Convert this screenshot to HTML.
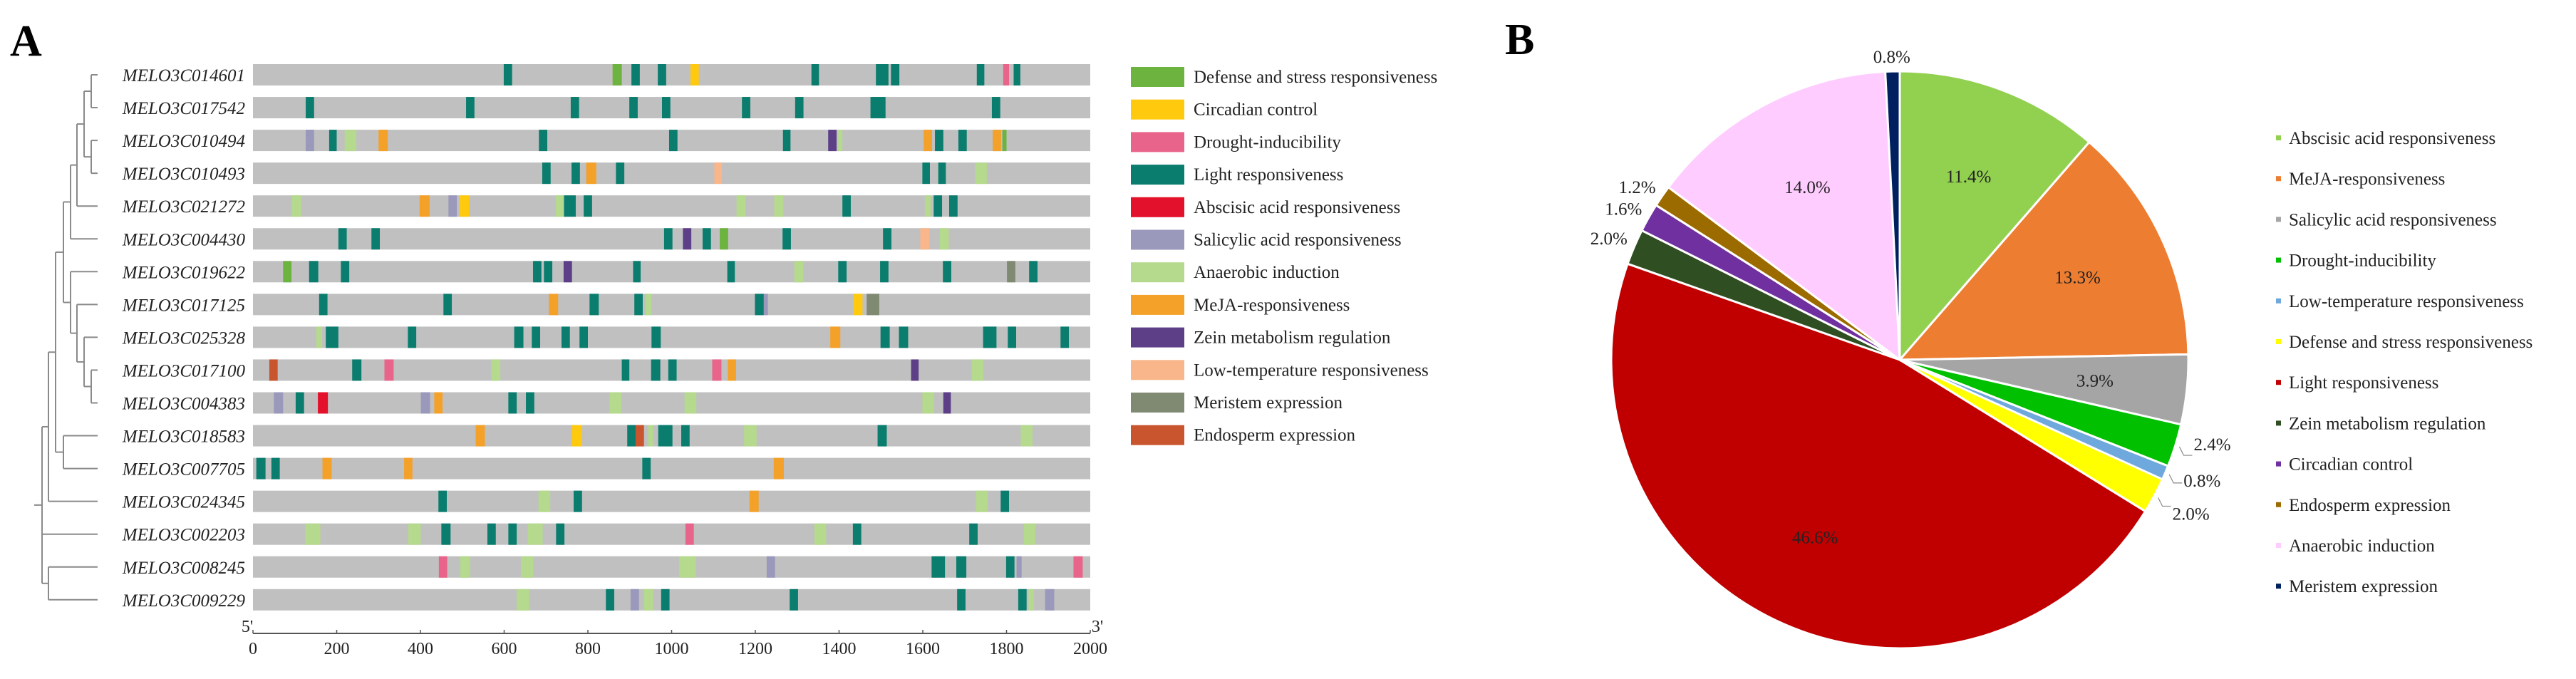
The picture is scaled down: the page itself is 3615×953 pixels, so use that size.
<!DOCTYPE html>
<html><head><meta charset="utf-8"><style>
html,body{margin:0;padding:0;background:#fff;}
svg{display:block;font-family:"Liberation Serif",serif;}
</style></head><body>
<svg id="fig" width="3615" height="953" viewBox="0 0 3615 953" xmlns="http://www.w3.org/2000/svg">
<text x="14" y="78" font-size="62" font-weight="bold">A</text>
<text x="2112" y="76" font-size="62" font-weight="bold">B</text>
<g id="panelA"></g>
<g id="legendA"></g>
<g id="pie"></g>
<g id="legendB"></g>
</svg>
<script>
const genes=["MELO3C014601","MELO3C017542","MELO3C010494","MELO3C010493","MELO3C021272","MELO3C004430","MELO3C019622","MELO3C017125","MELO3C025328","MELO3C017100","MELO3C004383","MELO3C018583","MELO3C007705","MELO3C024345","MELO3C002203","MELO3C008245","MELO3C009229"];
const elemTypes=["Defense and stress responsiveness","Circadian control","Drought-inducibility","Light responsiveness","Abscisic acid responsiveness","Salicylic acid responsiveness","Anaerobic induction","MeJA-responsiveness","Zein metabolism regulation","Low-temperature responsiveness","Meristem expression","Endosperm expression"];
const elemColors=["#6db33f","#ffc90e","#e8648a","#0a7d6e","#e3112b","#9a98bb","#b5d98d","#f4a12a","#5c3f87","#f8b68a","#808a72","#c9552f"];
const elements=[
 [[609,"L",20],[870,"D",22],[914,"L",20],[977,"L",20],[1055,"C",20],[1343,"L",18],[1503,"L",30],[1534,"L",20],[1738,"L",18],[1799,"R",14],[1825,"L",16]],
 [[136,"L",20],[519,"L",20],[769,"L",20],[909,"L",20],[987,"L",20],[1178,"L",20],[1305,"L",20],[1493,"L",36],[1775,"L",20]],
 [[136,"S",20],[191,"L",18],[233,"N",28],[311,"M",22],[693,"L",20],[1004,"L",20],[1275,"L",18],[1384,"Z",20],[1403,"N",10],[1612,"M",20],[1639,"L",20],[1695,"L",20],[1777,"M",20],[1795,"D",10]],
 [[701,"L",20],[771,"L",20],[808,"M",24],[877,"L",20],[1111,"T",18],[1608,"L",18],[1646,"L",18],[1739,"N",28]],
 [[104,"N",22],[410,"M",24],[477,"S",20],[505,"C",22],[732,"N",18],[757,"L",28],[800,"L",20],[1166,"N",22],[1256,"N",22],[1418,"L",20],[1612,"N",14],[1636,"L",20],[1673,"L",20]],
 [[214,"L",20],[293,"L",20],[992,"L",20],[1037,"Z",20],[1084,"L",20],[1125,"D",20],[1275,"L",20],[1515,"L",20],[1605,"T",22],[1651,"N",22]],
 [[82,"D",20],[145,"L",22],[220,"L",20],[679,"L",20],[705,"L",20],[752,"Z",20],[917,"L",18],[1142,"L",18],[1304,"N",22],[1408,"L",20],[1508,"L",20],[1658,"L",20],[1811,"E",20],[1864,"L",20]],
 [[168,"L",20],[465,"L",20],[718,"M",22],[815,"L",22],[921,"L",20],[945,"N",14],[1210,"L",22],[1225,"S",10],[1445,"C",22],[1481,"E",30]],
 [[158,"N",14],[189,"L",30],[380,"L",20],[635,"L",22],[676,"L",20],[747,"L",20],[790,"L",20],[963,"L",22],[1391,"M",24],[1510,"L",22],[1554,"L",22],[1760,"L",32],[1813,"L",20],[1939,"L",20]],
 [[49,"O",20],[248,"L",22],[325,"R",22],[580,"N",22],[890,"L",18],[962,"L",22],[1002,"L",20],[1108,"R",22],[1144,"M",20],[1581,"Z",18],[1731,"N",28]],
 [[61,"S",22],[112,"L",20],[167,"A",24],[412,"S",22],[443,"M",20],[620,"L",20],[662,"L",20],[866,"N",28],[1045,"N",28],[1613,"N",28],[1658,"Z",18]],
 [[543,"M",22],[774,"C",24],[904,"L",20],[924,"O",20],[950,"N",12],[985,"L",34],[1033,"L",20],[1188,"N",30],[1503,"L",22],[1848,"N",28]],
 [[19,"L",22],[54,"L",20],[177,"M",22],[371,"M",20],[940,"L",20],[1256,"M",24]],
 [[453,"L",20],[696,"N",28],[776,"L",20],[1197,"M",22],[1741,"N",28],[1796,"L",20]],
 [[143,"N",36],[386,"N",30],[461,"L",22],[570,"L",20],[620,"L",20],[674,"N",36],[734,"L",20],[1043,"R",20],[1355,"N",28],[1443,"L",20],[1721,"L",20],[1855,"N",28]],
 [[454,"R",20],[507,"N",24],[655,"N",30],[1038,"N",40],[1237,"S",20],[1637,"L",32],[1692,"L",24],[1809,"L",20],[1830,"S",12],[1971,"R",22]],
 [[645,"N",30],[853,"L",20],[912,"S",20],[945,"N",22],[985,"L",20],[1292,"L",20],[1692,"L",20],[1838,"L",20],[1859,"N",12],[1903,"S",22]]
];
const axisTicks=[0,200,400,600,800,1000,1200,1400,1600,1800,2000];
const codeIdx={D:0,C:1,R:2,L:3,A:4,S:5,N:6,M:7,Z:8,T:9,E:10,O:11};

const pieLabels=["Abscisic acid responsiveness","MeJA-responsiveness","Salicylic acid responsiveness","Drought-inducibility","Low-temperature responsiveness","Defense and stress responsiveness","Light responsiveness","Zein metabolism regulation","Circadian control","Endosperm expression","Anaerobic induction","Meristem expression"];
const pieValues=[11.4,13.3,3.9,2.4,0.8,2.0,46.6,2.0,1.6,1.2,14.0,0.8];
const pieColors=["#92d050","#ed7d31","#a5a5a5","#00c000","#6fa8dc","#ffff00","#c00000","#2f4f22","#7030a0","#9c6b00","#ffccff","#002060"];

const NS="http://www.w3.org/2000/svg";
function mk(tag,attrs,parent){const e=document.createElementNS(NS,tag);for(const k in attrs)e.setAttribute(k,attrs[k]);parent.appendChild(e);return e;}

const A=document.getElementById('panelA');
const x0=355,x1=1530,bpMax=2000;
const xs=bp=>x0+(bp/bpMax)*(x1-x0);
const rowY=i=>105+i*46.05;
const barH=30;
genes.forEach((g,i)=>{
  const y=rowY(i);
  const t=mk('text',{x:344,y:y+9,'font-size':25,'font-style':'italic','text-anchor':'end',fill:'#222'},A);
  t.textContent=g;
  
  
  const r=mk('rect',{x:x0,y:y-barH/2,width:x1-x0,height:barH,fill:'#c0c0c0'},A);
  
  
  elements[i].forEach(el=>{
    const w=xs(el[2])-xs(0);
    const m=mk('rect',{x:xs(el[0])-w/2,y:y-barH/2,width:w,height:barH,fill:elemColors[codeIdx[el[1]]]},A);
    
    
  });
});
const axY=889;
const ax=mk('line',{x1:x0,y1:axY,x2:x1,y2:axY,stroke:'#555','stroke-width':2},A);


axisTicks.forEach(v=>{
  mk('line',{x1:xs(v),y1:axY,x2:xs(v),y2:axY-5,stroke:'#555','stroke-width':1.5},A);
  const t=mk('text',{x:xs(v),y:axY+29,'font-size':24,'text-anchor':'middle',fill:'#222'},A);
  t.textContent=v;
  
  
});
for(const [lbl,xx] of [["5'",x0-8],["3'",x1+10]]){
  const t=mk('text',{x:xx,y:axY-2,'font-size':24,'text-anchor':'middle',fill:'#222'},A);
  t.textContent=lbl;
  
  
}
const leafX=137;
function node(x,kids){return {x,kids};}
const tree=node(59,[node(68,[node(78,[node(89,[node(99,[node(108,[node(118,[node(128,[0,1]),node(128,[2,3])]),4]),5]),node(99,[6,node(108,[7,node(118,[8,node(128,[9,10])])])])]),node(89,[11,12])]),13]),14,node(68,[15,16])]);
const T=mk('g',{stroke:'#8a8a8a','stroke-width':2,fill:'none'},A);


function draw(n){
  if(typeof n==='number')return rowY(n);
  const ys=n.kids.map(k=>{const y=draw(k);const kx=typeof k==='number'?leafX:k.x;mk('line',{x1:n.x,y1:y,x2:kx,y2:y},T);return y;});
  mk('line',{x1:n.x,y1:Math.min(...ys),x2:n.x,y2:Math.max(...ys)},T);
  return (Math.min(...ys)+Math.max(...ys))/2;
}
const ry=draw(tree);
mk('line',{x1:48,y1:ry,x2:59,y2:ry},T);

const LA=document.getElementById('legendA');
elemTypes.forEach((n,i)=>{
  const y=108+i*45.7;
  const r=mk('rect',{x:1587,y:y-14,width:75,height:28,fill:elemColors[i]},LA);
  
  
  const t=mk('text',{x:1675,y:y+8,'font-size':25,fill:'#222'},LA);
  t.textContent=n;
  
  
});

const P=document.getElementById('pie');
const cx=2666,cy=505,R=405;
const total=pieValues.reduce((a,b)=>a+b,0);
let acc=0;
const pt=(a,r)=>[cx+r*Math.sin(a),cy-r*Math.cos(a)];
pieValues.forEach((v,i)=>{
  const a0=acc/total*2*Math.PI; acc+=v; const a1=acc/total*2*Math.PI;
  const [sx,sy]=pt(a0,R),[ex,ey]=pt(a1,R);
  const p=mk('path',{d:`M${cx},${cy} L${sx},${sy} A${R},${R} 0 ${a1-a0>Math.PI?1:0} 1 ${ex},${ey} Z`,fill:pieColors[i],stroke:'#fff','stroke-width':3},P);
  
  
});
acc=0;
pieValues.forEach((v,i)=>{
  const am=(acc+v/2)/total*2*Math.PI; acc+=v;
  let x,y,anchor='middle';
  if(v>=3){[x,y]=pt(am,R*0.68);}
  else{
    [x,y]=pt(am,R+40);
    const [lx,ly]=pt(am,R+6);
    if(Math.sin(am)>0.3){anchor='start';x=lx+20;y=ly+(i===3?-4:(i===5?22:8));
      mk('path',{d:`M${lx},${ly} L${lx+6},${ly+12} L${lx+18},${ly+12}`,stroke:'#888',fill:'none','stroke-width':1.2},P);}
    else if(Math.sin(am)<-0.3){anchor='end';x=lx-4;y=ly-10;}
    else {y=y+19;}
  }
  const t=mk('text',{x,y:y+9,'font-size':25,'text-anchor':anchor,fill:'#222'},P);
  t.textContent=v.toFixed(1)+'%';
  
  
});
const LB=document.getElementById('legendB');
pieLabels.forEach((n,i)=>{
  const y=194+i*57.2;
  const r=mk('rect',{x:3194,y:y-4,width:7,height:7,fill:pieColors[i]},LB);
  
  
  const t=mk('text',{x:3212,y:y+8,'font-size':25,fill:'#222'},LB);
  t.textContent=n;
  
  
});
</script>
</body></html>
